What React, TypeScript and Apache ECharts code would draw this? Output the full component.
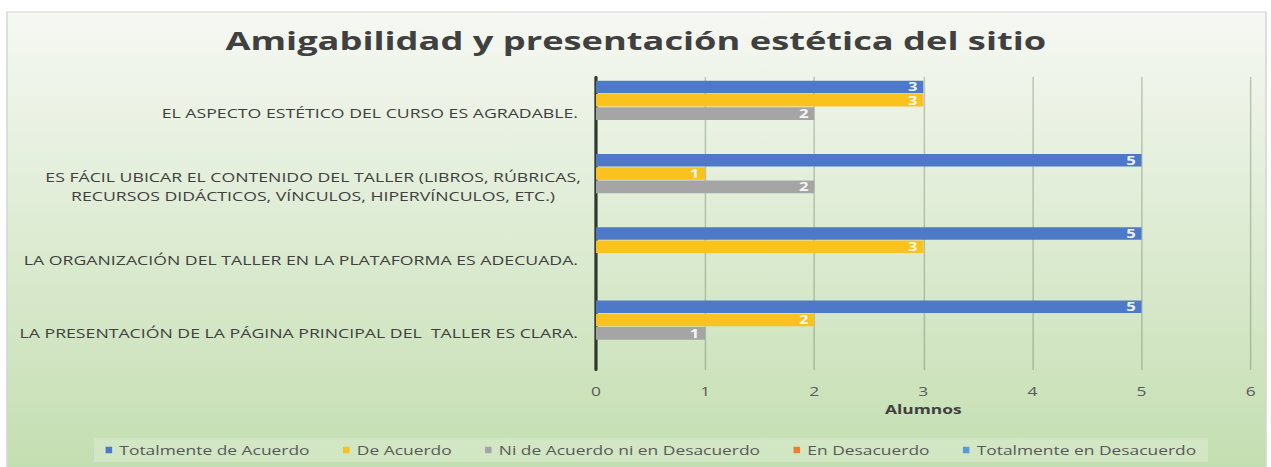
import React, { useEffect, useRef } from "react";
import * as echarts from "echarts";

const title = "Amigabilidad y presentación estética del sitio";
const categories = [
  "LA PRESENTACIÓN DE LA PÁGINA PRINCIPAL DEL  TALLER ES CLARA.",
  "LA ORGANIZACIÓN DEL TALLER EN LA PLATAFORMA ES ADECUADA.",
  "ES FÁCIL UBICAR EL CONTENIDO DEL TALLER (LIBROS, RÚBRICAS,\nRECURSOS DIDÁCTICOS, VÍNCULOS, HIPERVÍNCULOS, ETC.)",
  "EL ASPECTO ESTÉTICO DEL CURSO ES AGRADABLE.",
];
const seriesNames = [
  "Totalmente de Acuerdo",
  "De Acuerdo",
  "Ni de Acuerdo ni en Desacuerdo",
  "En Desacuerdo",
  "Totalmente en Desacuerdo",
];
const totalmenteDeAcuerdo = [5, 5, 5, 3];
const deAcuerdo = [2, 3, 1, 3];
const niDeAcuerdo = [1, 0, 2, 2];
const enDesacuerdo = [0, 0, 0, 0];
const totalmenteEnDesacuerdo = [0, 0, 0, 0];
const seriesValues = [totalmenteDeAcuerdo, deAcuerdo, niDeAcuerdo, enDesacuerdo, totalmenteEnDesacuerdo];
const colors = ["#4E79C8", "#FAC21E", "#A5A5A5", "#ED7D31", "#5B9BD5"];
const xTicks = [0, 1, 2, 3, 4, 5, 6];
const xAxisName = "Alumnos";

const FONT = "'Open Sans', 'Noto Sans', sans-serif";
// the reference picture is stretched horizontally; reproduce that stretch
const STRETCH = 1.45;
const PAGE_W = 1271;
const PAGE_H = 467;
const W = PAGE_W / STRETCH;
const px = (v: number) => v / STRETCH;

export default function App() {
  const ref = useRef<HTMLDivElement>(null);
  useEffect(() => {
    if (!ref.current) return;
    const chart = echarts.init(ref.current, undefined, { renderer: "svg" });
    const series = seriesNames.map((name, i) => ({
      name,
      type: "bar",
      data: seriesValues[i],
      itemStyle: { color: colors[i] },
      barGap: "6%",
      barCategoryGap: "10%",
      label: {
        show: true,
        position: "insideRight",
        distance: 4,
        color: "rgba(255,255,255,0.92)",
        fontWeight: "bold",
        fontSize: 11.5,
        lineHeight: 12,
        fontFamily: FONT,
        formatter: (p: any) => (p.value > 0 ? String(p.value) : ""),
      },
    }));
    chart.setOption({
      animation: false,
      backgroundColor: "transparent",
      graphic: [
        {
          type: "rect",
          z: -10,
          silent: true,
          shape: { x: px(7), y: 12, width: px(1259), height: 460 },
          style: {
            fill: new echarts.graphic.LinearGradient(0, 0, 0, 1, [
              { offset: 0, color: "#f6f8f3" },
              { offset: 1, color: "#c3deb0" },
            ]),
            stroke: "#d4d4d4",
            lineWidth: 1,
          },
        },
      ],
      title: {
        text: title,
        left: "center",
        top: 23,
        textStyle: { fontFamily: FONT, fontSize: 25, fontWeight: "bold", color: "#404040" },
      },
      legend: {
        data: seriesNames,
        bottom: 5,
        left: px(94),
        icon: "rect",
        itemWidth: 4.5,
        itemHeight: 6.5,
        itemGap: 23,
        padding: [6, 8],
        backgroundColor: "rgba(255,255,255,0.22)",
        textStyle: { fontFamily: FONT, fontSize: 12, color: "#595959" },
      },
      grid: { left: px(596), right: px(21), top: 77, bottom: 97, outerBoundsMode: "none", containLabel: false },
      xAxis: {
        type: "value",
        min: xTicks[0],
        max: xTicks[xTicks.length - 1],
        interval: 1,
        name: xAxisName,
        nameLocation: "middle",
        nameGap: 33,
        nameTextStyle: { fontFamily: FONT, fontSize: 12, fontWeight: "bold", color: "#404040" },
        axisLine: { show: false },
        axisTick: { show: false },
        axisLabel: { fontFamily: FONT, fontSize: 12, color: "#595959", margin: 15 },
        splitLine: { lineStyle: { color: "rgba(90,110,80,0.35)", width: 1 } },
      },
      yAxis: {
        type: "category",
        data: categories,
        axisLine: { show: true, lineStyle: { color: "#2f3a2f", width: 2.2 } },
        axisTick: { show: false },
        axisLabel: {
          fontFamily: FONT,
          fontSize: 12.2,
          color: "#404040",
          margin: px(18),
          lineHeight: 19,
          formatter: (v: string) =>
            v.indexOf("\n") >= 0
              ? v
                  .split("\n")
                  .map((l) => "{c|" + l + "}")
                  .join("\n")
              : v,
          rich: {
            c: { width: px(530), align: "center", fontFamily: FONT, fontSize: 12.2, color: "#404040", lineHeight: 19 },
          },
        },
      },
      series,
    });
    return () => chart.dispose();
  }, []);
  return (
    <div style={{ position: "absolute", left: 0, top: 0, width: PAGE_W, height: PAGE_H, background: "#ffffff", overflow: "hidden" }}>
      <div
        ref={ref}
        style={{ width: W, height: PAGE_H, transform: `scaleX(${STRETCH})`, transformOrigin: "0 0" }}
      />
    </div>
  );
}
